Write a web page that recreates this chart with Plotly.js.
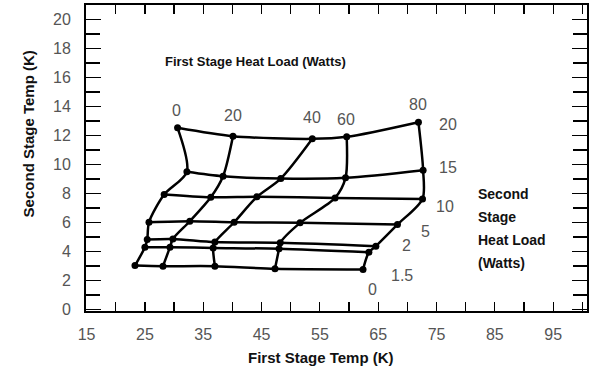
<!DOCTYPE html>
<html>
<head>
<meta charset="utf-8">
<script src="https://cdn.plot.ly/plotly-3.0.1.min.js"></script>
<style>html,body{margin:0;padding:0;background:#fff}#chart{width:590px;height:386px}</style>
</head>
<body>
<div id="chart"></div>
<script>
// First stage heat loads (W) -> columns ; second stage heat loads (W) -> rows
var firstStageLoads = ["0", "20", "40", "60", "80"];
var secondStageLoads = ["0", "1.5", "2", "5", "10", "15", "20"];

// First stage temperature (K) for each second-stage load row, across first-stage loads 0..80 W
var t1_at_0W   = [23.3, 28.1, 37.0, 47.3, 62.4];
var t1_at_1p5W = [25.0, 29.3, 36.7, 48.0, 63.4];
var t1_at_2W   = [25.4, 29.8, 37.0, 48.2, 64.6];
var t1_at_5W   = [25.7, 32.7, 40.3, 51.6, 68.3];
var t1_at_10W  = [28.3, 36.3, 44.2, 57.6, 72.6];
var t1_at_15W  = [32.2, 38.4, 48.3, 59.4, 72.7];
var t1_at_20W  = [30.6, 40.1, 53.7, 59.6, 71.9];

// Second stage temperature (K) for each second-stage load row
var t2_at_0W   = [3.03, 2.99, 2.99, 2.81, 2.76];
var t2_at_1p5W = [4.30, 4.30, 4.25, 4.19, 3.95];
var t2_at_2W   = [4.83, 4.87, 4.65, 4.60, 4.37];
var t2_at_5W   = [6.02, 6.09, 6.02, 5.98, 5.86];
var t2_at_10W  = [7.93, 7.74, 7.77, 7.70, 7.63];
var t2_at_15W  = [9.50, 9.19, 9.03, 9.08, 9.61];
var t2_at_20W  = [12.53, 11.95, 11.77, 11.91, 12.92];

var xTickVals = [15, 25, 35, 45, 55, 65, 75, 85, 95];
var yTickVals = [0, 2, 4, 6, 8, 10, 12, 14, 16, 18, 20];

var rowsX = [t1_at_0W, t1_at_1p5W, t1_at_2W, t1_at_5W, t1_at_10W, t1_at_15W, t1_at_20W];
var rowsY = [t2_at_0W, t2_at_1p5W, t2_at_2W, t2_at_5W, t2_at_10W, t2_at_15W, t2_at_20W];

var traces = [];
var lineStyle = {color: "#000", width: 2.5, shape: "spline", smoothing: 0.8};
// constant second-stage load lines
rowsX.forEach(function (xs, i) {
  traces.push({
    x: xs, y: rowsY[i], type: "scatter", mode: "lines+markers",
    line: lineStyle, marker: {color: "#000", size: 7},
    name: secondStageLoads[i] + " W", hoverinfo: "x+y"
  });
});
// constant first-stage load lines
firstStageLoads.forEach(function (lbl, j) {
  traces.push({
    x: rowsX.map(function (r) { return r[j]; }),
    y: rowsY.map(function (r) { return r[j]; }),
    type: "scatter", mode: "lines", line: lineStyle,
    name: lbl + " W", hoverinfo: "x+y"
  });
});

var numFont = {family: "Liberation Sans, Arial, sans-serif", size: 16, color: "#555"};
var boldFont = {family: "Liberation Sans, Arial, sans-serif", size: 13, color: "#111", weight: "bold"};
var boldFontL = {family: "Liberation Sans, Arial, sans-serif", size: 14, color: "#111", weight: "bold"};
var titleFont = {family: "Liberation Sans, Arial, sans-serif", size: 15, color: "#111", weight: "bold"};

var ann = [];
function addNum(text, x, y) {
  ann.push({text: text, x: x, y: y, xref: "x", yref: "y", showarrow: false, font: numFont});
}
// first stage load labels (top of grid)
addNum(firstStageLoads[0], 30.4, 13.7);
addNum(firstStageLoads[1], 40.1, 13.35);
addNum(firstStageLoads[2], 53.6, 13.22);
addNum(firstStageLoads[3], 59.4, 13.1);
addNum(firstStageLoads[4], 71.9, 14.15);
// second stage load labels (right of grid)
addNum(secondStageLoads[6], 77.0, 12.76);
addNum(secondStageLoads[5], 77.0, 9.77);
addNum(secondStageLoads[4], 76.5, 7.12);
addNum(secondStageLoads[3], 73.1, 5.4);
addNum(secondStageLoads[2], 69.9, 4.4);
addNum(secondStageLoads[1], 69.0, 2.35);
addNum(secondStageLoads[0], 64.0, 1.35);

ann.push({text: "<b>First Stage Heat Load (Watts)</b>", x: 43.9, y: 17.1, xref: "x", yref: "y", showarrow: false, font: boldFont});
var rightLines = ["Second", "Stage", "Heat Load", "(Watts)"];
var rightY = [7.99, 6.41, 4.78, 3.19];
rightLines.forEach(function (t, k) {
  ann.push({text: "<b>" + t + "</b>", x: 81.7, y: rightY[k], xref: "x", yref: "y", xanchor: "left", showarrow: false, font: boldFontL});
});
ann.push({text: "<b>Second Stage Temp (K)</b>", xref: "paper", yref: "paper", x: -0.135, y: 0.58, textangle: -90, showarrow: false, font: titleFont});
ann.push({text: "<b>First Stage Temp (K)</b>", xref: "paper", yref: "paper", x: 0.47, y: -0.186, showarrow: false, font: titleFont});

var layout = {
  width: 590, height: 386,
  margin: {l: 86, r: 3, t: 5, b: 75},
  paper_bgcolor: "#fff", plot_bgcolor: "#fff",
  showlegend: false,
  xaxis: {
    range: [14.9, 100.8], tickvals: xTickVals, ticktext: xTickVals.map(String),
    ticks: "inside", ticklen: 9, tickwidth: 1.2, tickcolor: "#000",
    minor: {dtick: 5, tick0: 15, ticks: "inside", ticklen: 9, tickcolor: "#000"},
    showline: true, linecolor: "#000", linewidth: 2, mirror: "ticks",
    showgrid: false, zeroline: false, tickfont: numFont, ticklabelstandoff: 8
  },
  yaxis: {
    range: [-0.1, 21], tickvals: yTickVals, ticktext: yTickVals.map(String),
    ticks: "inside", ticklen: 15, tickwidth: 1.2, tickcolor: "#000",
    minor: {dtick: 1, tick0: 0, ticks: "inside", ticklen: 14, tickcolor: "#000"},
    showline: true, linecolor: "#000", linewidth: 2, mirror: "ticks",
    showgrid: false, zeroline: false, tickfont: numFont, ticklabelstandoff: 10
  },
  annotations: ann
};

Plotly.newPlot("chart", traces, layout, {displayModeBar: false, staticPlot: true});
</script>
</body>
</html>
